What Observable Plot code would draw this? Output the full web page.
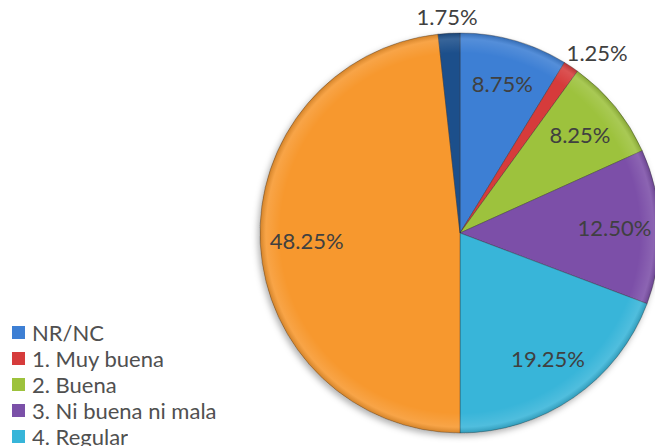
<!DOCTYPE html>
<html><head><meta charset="utf-8">
<script src="https://cdn.jsdelivr.net/npm/d3@7"></script>
<script src="https://cdn.jsdelivr.net/npm/@observablehq/plot@0.6"></script>
<style>
html,body{margin:0;padding:0;background:#fff;overflow:hidden}
#wrap{position:relative;width:655px;height:446px;overflow:hidden}
#wrap > svg{position:absolute;left:0;top:0}
#legend{position:absolute;left:12px;top:319px}
#legend *{font-family:Lato,"DejaVu Sans",sans-serif !important;font-size:22px !important;color:#505050 !important}
#legend div[class$="-swatch"]{height:26px;margin:0 !important;padding:0 !important;display:flex;align-items:center}
#legend svg{margin-right:7px !important}
</style></head><body><div id="wrap"></div>
<script>
const categories = ["NR/NC","1. Muy buena","2. Buena","3. Ni buena ni mala","4. Regular","5. Mala","6. Muy mala"];
const shares = [8.75, 1.25, 8.25, 12.50, 19.25, 48.25, 1.75];
const labels = ["8.75%","1.25%","8.25%","12.50%","19.25%","48.25%","1.75%"];
const colors = ["#3d7fd4","#d63b3b","#9dc23c","#7b50a8","#37b5d9","#f7982f","#1f4f8b"];
const legendShown = 5; // the reference's legend is cropped after "4. Regular"

const data = categories.map((c, i) => ({category: c, share: shares[i], label: labels[i]}));
const arcs = d3.pie().value(d => d.share).sort(null)(data);
const color = Plot.scale({color: {type: "categorical", domain: categories, range: colors}});

const labelData = arcs.map(a => {
  const mid = (a.startAngle + a.endAngle) / 2;
  const outside = a.data.share < 2;
  const r = outside ? 1.08 : 0.77;
  const shift = outside ? 0.15 : 0;
  return {...a.data, lx: r * Math.sin(mid) + shift * Math.sin(mid), ly: r * Math.cos(mid)};
});

const pie = (index, scales) => {
  const cx = scales.x(0), cy = scales.y(0), R = scales.x(1) - scales.x(0);
  const arc = d3.arc().innerRadius(0).outerRadius(R);
  const g = d3.create("svg:g").attr("transform", `translate(${cx},${cy})`);
  const defs = g.append("defs");
  const f = defs.append("filter").attr("id", "pieShadow").attr("x", "-20%").attr("y", "-20%").attr("width", "140%").attr("height", "140%");
  f.append("feDropShadow").attr("dx", -2).attr("dy", 3).attr("stdDeviation", 3).attr("flood-color", "#000").attr("flood-opacity", 0.3);
  const rg = defs.append("radialGradient").attr("id", "bevel").attr("cx", 0).attr("cy", 0).attr("r", R).attr("gradientUnits", "userSpaceOnUse");
  rg.append("stop").attr("offset", "0.9").attr("stop-color", "#fff").attr("stop-opacity", 0);
  rg.append("stop").attr("offset", "0.97").attr("stop-color", "#fff").attr("stop-opacity", 0.12);
  rg.append("stop").attr("offset", "1").attr("stop-color", "#000").attr("stop-opacity", 0.15);
  const s = g.append("g").attr("filter", "url(#pieShadow)");
  s.selectAll("path").data(arcs).join("path")
    .attr("d", arc)
    .attr("fill", d => color.apply(d.data.category))
    .attr("stroke", "#2a2a2a").attr("stroke-opacity", 0.35).attr("stroke-width", 1);
  g.append("g").selectAll("path").data(arcs).join("path")
    .attr("d", arc).attr("fill", "url(#bevel)");
  return g.node();
};

const chart = Plot.plot({
  width: 655, height: 446,
  margin: 0,
  x: {domain: [-2.3, 0.975], range: [0, 655], axis: null},
  y: {domain: [-1.065, 1.165], range: [446, 0], axis: null},
  style: {background: "transparent", overflow: "visible"},
  marks: [
    pie,
    Plot.text(labelData, {x: "lx", y: "ly", text: "label", fill: "#404040", fontSize: 22, fontFamily: "Lato"})
  ]
});
document.getElementById("wrap").appendChild(chart);

const legend = Plot.legend({color: {type: "categorical", domain: categories.slice(0, legendShown), range: colors.slice(0, legendShown)}, columns: 1, swatchSize: 13, className: "lg"});
const lw = document.createElement("div");
lw.id = "legend";
lw.appendChild(legend);
document.getElementById("wrap").appendChild(lw);
</script></body></html>
